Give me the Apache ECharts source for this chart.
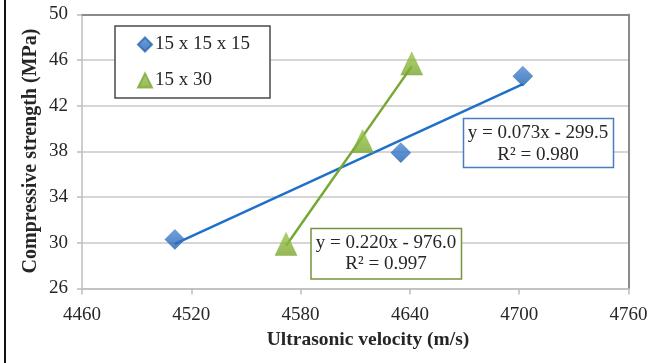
<!DOCTYPE html>
<html><head><meta charset="utf-8">
<script src="https://cdn.jsdelivr.net/npm/echarts@6/dist/echarts.min.js"></script>
<style>html,body{margin:0;padding:0;background:#fff}#c{width:652px;height:363px}</style>
</head><body><div id="c"></div>
<script>
// ---- data ----
var seriesNames = ['15 x 15 x 15', '15 x 30'];
var cubeVelocity = [4511, 4635, 4702];
var cubeStrength = [30.3, 37.9, 44.6];
var cylVelocity = [4572, 4614, 4641];
var cylStrength = [29.9, 38.9, 45.7];
var cubeEquation = ['y = 0.073x - 299.5', 'R² = 0.980'];
var cylEquation = ['y = 0.220x - 976.0', 'R² = 0.997'];
var xTicks = [4460, 4760, 60];
var yTicks = [26, 50, 4];

function pairs(xs, ys) { return xs.map(function (x, i) { return [x, ys[i]]; }); }
function trend(xs, ys) {
  var n = xs.length, mx = 0, my = 0, sxy = 0, sxx = 0;
  xs.forEach(function (x, i) { mx += x / n; my += ys[i] / n; });
  xs.forEach(function (x, i) { sxy += (x - mx) * (ys[i] - my); sxx += (x - mx) * (x - mx); });
  var b = sxy / sxx, a = my - b * mx;
  var x0 = Math.min.apply(null, xs), x1 = Math.max.apply(null, xs);
  return [[x0, a + b * x0], [x1, a + b * x1]];
}

var FONT = '"Liberation Serif", "Times New Roman", serif';
var blueLine = '#1f70c8', greenLine = '#77a833';

var chart = echarts.init(document.getElementById('c'), null, { renderer: 'canvas' });
chart.setOption({
  animation: false,
  backgroundColor: '#fff',
  grid: { left: 82, right: 23.5, top: 14.5, bottom: 74.5, containLabel: false },
  xAxis: [{
    type: 'value', min: xTicks[0], max: xTicks[1], interval: xTicks[2],
    axisLine: { show: true, lineStyle: { color: '#bdbdbd', width: 1.5 } },
    axisTick: { show: true, length: 6, lineStyle: { color: '#bdbdbd', width: 1.5 } },
    axisLabel: { margin: 17, fontFamily: FONT, fontSize: 19, color: '#262626', formatter: function (v) { return String(v); } },
    splitLine: { show: false }
  }, {
    type: 'value', position: 'top', min: xTicks[0], max: xTicks[1],
    axisLine: { show: true, lineStyle: { color: '#8a8a8a', width: 2 } },
    axisTick: { show: false }, axisLabel: { show: false }, splitLine: { show: false }
  }],
  yAxis: [{
    type: 'value', min: yTicks[0], max: yTicks[1], interval: yTicks[2],
    axisLine: { show: true, lineStyle: { color: '#bdbdbd', width: 1.5 } },
    axisTick: { show: true, length: 5, lineStyle: { color: '#bdbdbd', width: 1.5 } },
    axisLabel: { margin: 14, fontFamily: FONT, fontSize: 19, color: '#262626' },
    splitLine: { show: true, lineStyle: { color: '#c8c8c8', width: 1.5 } }
  }, {
    type: 'value', position: 'right', min: yTicks[0], max: yTicks[1],
    axisLine: { show: true, lineStyle: { color: '#8a8a8a', width: 2 } },
    axisTick: { show: false }, axisLabel: { show: false }, splitLine: { show: false }
  }],
  legend: {
    orient: 'vertical', left: 115, top: 26,
    padding: [8, 20, 7, 22], itemGap: 15, itemWidth: 14, itemHeight: 14,
    backgroundColor: '#fff', borderColor: '#4a4a4a', borderWidth: 1.5, borderRadius: 0,
    textStyle: { fontFamily: FONT, fontSize: 19, color: '#262626', lineHeight: 21, padding: [0, 0, 0, -2] },
    data: [{ name: seriesNames[0], icon: 'diamond' }, { name: seriesNames[1], icon: 'triangle' }]
  },
  series: [{
    name: 'trend1', type: 'line', data: trend(cubeVelocity, cubeStrength), symbol: 'none',
    lineStyle: { color: blueLine, width: 2.5 }, z: 2, silent: true
  }, {
    name: 'trend2', type: 'line', data: trend(cylVelocity, cylStrength), symbol: 'none',
    lineStyle: { color: greenLine, width: 2.5 }, z: 2, silent: true
  }, {
    name: seriesNames[0], type: 'scatter', data: pairs(cubeVelocity, cubeStrength),
    symbol: 'diamond', symbolSize: [20, 20],
    itemStyle: { color: new echarts.graphic.LinearGradient(0, 0, 0, 1, [{ offset: 0, color: '#4a8ad6' }, { offset: 1, color: '#1f5fae' }]), borderColor: '#2a66b0', borderWidth: 0.5 },
    z: 5
  }, {
    name: seriesNames[1], type: 'scatter', data: pairs(cylVelocity, cylStrength),
    symbol: 'triangle', symbolSize: [22, 23],
    itemStyle: { color: new echarts.graphic.LinearGradient(0, 0, 0, 1, [{ offset: 0, color: '#9cc74a' }, { offset: 1, color: '#78a52e' }]), borderColor: '#7ea838', borderWidth: 0.5 },
    z: 5
  }],
  graphic: [
    { type: 'line', shape: { x1: 5, y1: 0, x2: 5, y2: 363 }, style: { stroke: '#111', lineWidth: 2 } },
    { type: 'text', x: 368, y: 340, style: { text: 'Ultrasonic velocity (m/s)', font: 'bold 19.5px ' + FONT, fill: '#262626', align: 'center', verticalAlign: 'middle' } },
    { type: 'text', x: 31, y: 151, rotation: Math.PI / 2, style: { text: 'Compressive strength (MPa)', font: 'bold 20px ' + FONT, fill: '#262626', align: 'center', verticalAlign: 'middle' } },
    { type: 'rect', shape: { x: 463.5, y: 118.5, width: 150, height: 49 }, style: { fill: '#fff', stroke: '#4a7ebb', lineWidth: 1.5 }, z: 10 },
    { type: 'text', x: 538, y: 133.5, z: 11, style: { text: cubeEquation[0], font: '19px ' + FONT, fill: '#262626', align: 'center', verticalAlign: 'middle' } },
    { type: 'text', x: 538, y: 155, z: 11, style: { text: cubeEquation[1], font: '19px ' + FONT, fill: '#262626', align: 'center', verticalAlign: 'middle' } },
    { type: 'rect', shape: { x: 311, y: 228.5, width: 150.5, height: 50.5 }, style: { fill: '#fff', stroke: '#77933c', lineWidth: 1.5 }, z: 10 },
    { type: 'text', x: 386, y: 243.5, z: 11, style: { text: cylEquation[0], font: '19px ' + FONT, fill: '#262626', align: 'center', verticalAlign: 'middle' } },
    { type: 'text', x: 386, y: 264, z: 11, style: { text: cylEquation[1], font: '19px ' + FONT, fill: '#262626', align: 'center', verticalAlign: 'middle' } }
  ]
});
</script>
</body></html>
